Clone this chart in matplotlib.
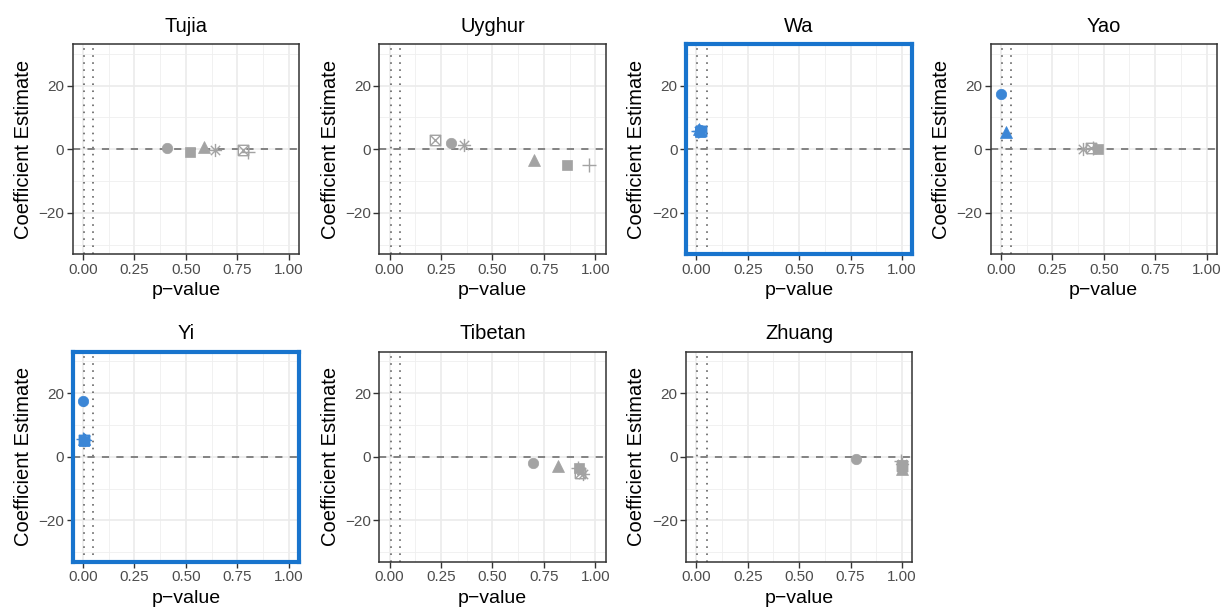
import numpy as np
import matplotlib
matplotlib.use("Agg")
import matplotlib.pyplot as plt
from matplotlib.path import Path
from matplotlib.ticker import MultipleLocator

plt.rcParams['font.family'] = ['Liberation Sans', 'DejaVu Sans']

# groups shown, in panel order
groups = ["Tujia", "Uyghur", "Wa", "Yao", "Yi", "Tibetan", "Zhuang"]
highlighted = ["Wa", "Yi"]

# model shapes (one point per model in each panel)
shapes = ["circle", "square", "triangle", "asterisk", "boxx", "plus"]

# p-values per group, in the order of `shapes`
pvals = {
    "Tujia":   [0.41, 0.52, 0.59, 0.64, 0.78, 0.80],
    "Uyghur":  [0.30, 0.86, 0.70, 0.36, 0.22, 0.97],
    "Wa":      [0.020, 0.020, 0.012, 0.015, 0.025, 0.008],
    "Yao":     [0.000, 0.47, 0.024, 0.40, 0.44, 0.45],
    "Yi":      [0.000, 0.006, 0.004, 0.008, 0.005, 0.001],
    "Tibetan": [0.695, 0.92, 0.82, 0.94, 0.925, 0.915],
    "Zhuang":  [0.775, 0.998, 0.998, 0.998, 0.998, 0.995],
}
# coefficient estimates per group, same order
coefs = {
    "Tujia":   [0.4, -0.9, 0.6, -0.3, -0.3, -0.8],
    "Uyghur":  [2.1, -4.9, -3.5, 1.5, 2.9, -4.8],
    "Wa":      [6.0, 5.4, 6.3, 5.8, 5.6, 5.9],
    "Yao":     [17.4, 0.0, 5.3, 0.2, 0.3, 0.4],
    "Yi":      [17.6, 5.0, 5.5, 5.3, 5.2, 5.6],
    "Tibetan": [-2.1, -3.6, -2.8, -5.5, -5.0, -3.6],
    "Zhuang":  [-0.6, -2.6, -3.8, -2.2, -3.0, -1.2],
}

sig_thresholds = [0.005, 0.05]

GREY = "#A3A3A3"
BLUE = "#3B86D6"
FRAME_BLUE = "#1874CD"

# custom markers: boxed X and asterisk
boxx = Path([(-1, -1), (1, -1), (1, 1), (-1, 1), (-1, -1),
             (-1, -1), (1, 1), (-1, 1), (1, -1)],
            [Path.MOVETO, Path.LINETO, Path.LINETO, Path.LINETO, Path.LINETO,
             Path.MOVETO, Path.LINETO, Path.MOVETO, Path.LINETO])
s = 0.7071
aster = Path([(-1, 0), (1, 0), (0, -1), (0, 1), (-s, -s), (s, s), (-s, s), (s, -s)],
             [Path.MOVETO, Path.LINETO] * 4)

marker_style = {
    "circle":   dict(marker="o", ms=7.5, filled=True),
    "square":   dict(marker="s", ms=7.0, filled=True),
    "triangle": dict(marker="^", ms=8.5, filled=True),
    "asterisk": dict(marker=aster, ms=9.5, filled=False),
    "boxx":     dict(marker=boxx, ms=7.5, filled=False),
    "plus":     dict(marker="+", ms=10.0, filled=False),
}

W, H = 1224, 609
fig = plt.figure(figsize=(W / 100, H / 100), dpi=100)

col_left = [72.7, 379.3, 686.0, 990.6]
row_top = [44.3, 351.7]
pw, ph = 226.3, 210.0

for i, g in enumerate(groups):
    r, c = divmod(i, 4)
    x0 = col_left[c]
    y0 = row_top[r]
    ax = fig.add_axes([x0 / W, 1 - (y0 + ph) / H, pw / W, ph / H])

    ax.set_xlim(-0.05, 1.05)
    ax.set_ylim(-33, 33)
    ax.xaxis.set_minor_locator(MultipleLocator(0.125))
    ax.yaxis.set_minor_locator(MultipleLocator(10))
    ax.set_xticks([0, 0.25, 0.5, 0.75, 1.0])
    ax.set_xticklabels(["0.00", "0.25", "0.50", "0.75", "1.00"])
    ax.set_yticks([-20, 0, 20])
    ax.set_yticklabels(["\u221220", "0", "20"])

    ax.grid(which="major", color="#EBEBEB", lw=1.2)
    ax.grid(which="minor", color="#EFEFEF", lw=0.6)
    ax.set_axisbelow(True)
    ax.tick_params(which="minor", length=0)
    ax.tick_params(which="major", direction="out", length=4, width=1.0,
                   color="#333333", labelcolor="#4D4D4D", labelsize=11, pad=2)

    for t in sig_thresholds:
        ax.axvline(t, color="#6E6E6E", lw=1.3, ls=(0, (0.9, 3)), zorder=1)
    ax.axhline(0, color="#7A7A7A", lw=1.3, ls=(0, (4, 4)), zorder=1)

    for sh, p, est in zip(shapes, pvals[g], coefs[g]):
        col = BLUE if p < 0.05 else GREY
        st = marker_style[sh]
        if st["filled"]:
            ax.plot([p], [est], ls="none", marker=st["marker"], ms=st["ms"],
                    mfc=col, mec=col, mew=0.5, zorder=3)
        else:
            ax.plot([p], [est], ls="none", marker=st["marker"], ms=st["ms"],
                    mfc="none", mec=col, mew=1.0, zorder=3)

    for sp in ax.spines.values():
        if g in highlighted:
            sp.set_color(FRAME_BLUE)
            sp.set_linewidth(3.0)
        else:
            sp.set_color("#333333")
            sp.set_linewidth(1.1)
        sp.set_zorder(5)

    ax.set_title(g, fontsize=14.5, color="black", pad=9)
    ax.set_xlabel("p\u2212value", fontsize=14, labelpad=4)
    ax.set_ylabel("Coefficient Estimate", fontsize=14.5, labelpad=4)

fig.savefig("out.png", dpi=100, facecolor="white")
